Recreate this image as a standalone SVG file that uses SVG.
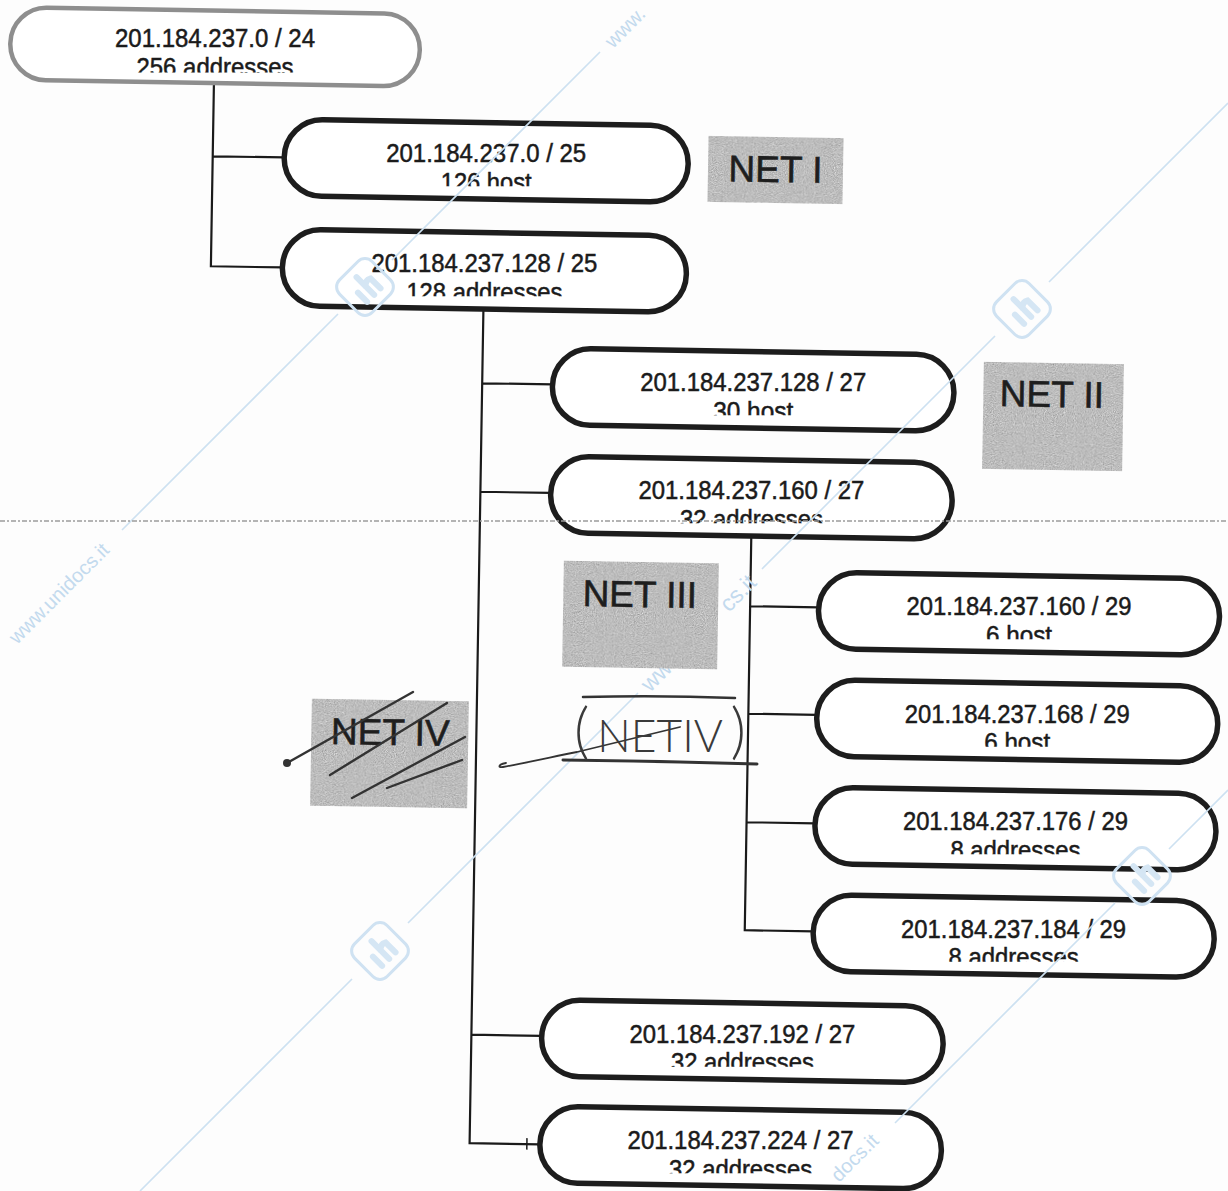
<svg xmlns="http://www.w3.org/2000/svg" xmlns:xlink="http://www.w3.org/1999/xlink" width="1228" height="1191" viewBox="0 0 1228 1191">
<style>
  .b {fill:#ffffff; stroke:#1d1d1d; stroke-width:5.5}
  .root .b {stroke:#8e8e8e; stroke-width:4.5}
  .t {font-family:"Liberation Sans", Arial, sans-serif; font-size:25px; fill:#1b1b1b; stroke:#1b1b1b; stroke-width:0.5; text-anchor:middle}
  .conn path {stroke:#1a1a1a; stroke-width:2.2; fill:none}
  .lbl rect {fill:#bdbdbd}
  .lbl text {font-family:"Liberation Sans", Arial, sans-serif; font-size:37px; fill:#1e1e1e; stroke:#1e1e1e; stroke-width:0.6; text-anchor:middle}
  .wm {stroke:#cde1f1; stroke-width:1.6; fill:none}
  .wmt {font-family:"Liberation Sans", Arial, sans-serif; font-size:20px; fill:#c3daee}
  .ink {stroke:#333333; fill:none; stroke-linecap:round; stroke-linejoin:round}
  .hand {font-family:Lato, "Noto Sans", "DejaVu Sans", sans-serif; font-weight:300; fill:#3a3a3a}
  .fold {stroke:#9c9c9c; stroke-width:1.3; stroke-dasharray:5 2 2 2; fill:none}
</style>
<defs>
  <filter id="grain" x="0" y="0" width="1" height="1" color-interpolation-filters="sRGB">
    <feTurbulence type="fractalNoise" baseFrequency="0.9" numOctaves="2" seed="7" result="noise"/>
    <feColorMatrix in="noise" type="matrix" values="0.33 0.33 0.33 0 0  0.33 0.33 0.33 0 0  0.33 0.33 0.33 0 0  0 0 0 0 1" result="gray"/>
    <feComposite in="gray" in2="SourceGraphic" operator="arithmetic" k1="0" k2="0.7" k3="1" k4="-0.35" result="mix"/>
    <feComposite in="mix" in2="SourceAlpha" operator="in"/>
  </filter>
  <g id="logo">
    <rect x="-23" y="-23" width="46" height="46" rx="10" fill="none" stroke="#cfe2f2" stroke-width="3"/>
    <path d="M-9 -1 V12 M1 -13 V12 M1 0 Q5 -5 10 -2 V12" stroke="#d5e6f4" stroke-width="6" stroke-linecap="round" fill="none"/>
  </g>
  <clipPath id="c1"><rect x="5" y="5" width="420" height="67.4"/></clipPath>
  <clipPath id="c2"><rect x="276" y="120" width="420" height="66.3"/></clipPath>
  <clipPath id="c3"><rect x="274" y="230" width="420" height="66.3"/></clipPath>
  <clipPath id="c4"><rect x="543" y="349" width="420" height="66.3"/></clipPath>
  <clipPath id="c5"><rect x="541" y="457" width="420" height="66.3"/></clipPath>
  <clipPath id="c6"><rect x="809" y="573" width="420" height="66.2"/></clipPath>
  <clipPath id="c7"><rect x="807" y="680" width="420" height="66.7"/></clipPath>
  <clipPath id="c8"><rect x="805" y="788" width="420" height="66.2"/></clipPath>
  <clipPath id="c9"><rect x="803" y="895" width="420" height="66.7"/></clipPath>
  <clipPath id="c10"><rect x="532" y="1001" width="420" height="65.7"/></clipPath>
  <clipPath id="c11"><rect x="530" y="1107" width="420" height="66.2"/></clipPath>
</defs>

<rect x="0" y="0" width="1228" height="1191" fill="#fdfdfd"/>

<g id="connectors" class="conn" transform="rotate(0.95 614 595)">
  <path d="M205.5 89 V273 H277 M205.5 163 H277"/>
  <path d="M478.7 311 V1145.5 H549 M478.7 385.5 H549 M478.7 494 H549 M478.7 1037 H549"/>
  <path d="M750.3 533 V928 H818.75 M750.3 604 H818.75 M750.3 711.5 H818.75 M750.3 820 H818.75"/>
  <path d="M536 1139.5 V1151" style="stroke-width:1.5"/>
</g>

<g id="n1" class="node root">
  <rect class="b" transform="rotate(0.95 614 595)" x="1.25" y="17.35" width="409.5" height="72.5" rx="36"/>
  <text class="t" x="215" y="47.4" textLength="200" lengthAdjust="spacingAndGlyphs">201.184.237.0 / 24</text>
  <g clip-path="url(#c1)"><text class="t" x="215" y="75.9" textLength="157" lengthAdjust="spacingAndGlyphs">256 addresses</text></g>
</g>
<g id="n2" class="node">
  <rect class="b" transform="rotate(0.95 614 595)" x="277" y="124.75" width="404" height="76.5" rx="38"/>
  <text class="t" x="486.2" y="162.3" textLength="200" lengthAdjust="spacingAndGlyphs">201.184.237.0 / 25</text>
  <g clip-path="url(#c2)"><text class="t" x="486.2" y="190.8" textLength="91" lengthAdjust="spacingAndGlyphs">126 host</text></g>
</g>
<g id="n3" class="node">
  <rect class="b" transform="rotate(0.95 614 595)" x="277" y="234.75" width="404" height="76.5" rx="38"/>
  <text class="t" x="484.4" y="272.3" textLength="226" lengthAdjust="spacingAndGlyphs">201.184.237.128 / 25</text>
  <g clip-path="url(#c3)"><text class="t" x="484.4" y="300.8" textLength="156" lengthAdjust="spacingAndGlyphs">128 addresses</text></g>
</g>
<g id="n4" class="node">
  <rect class="b" transform="rotate(0.95 614 595)" x="549" y="349.25" width="401.5" height="76.5" rx="38"/>
  <text class="t" x="753.2" y="391.3" textLength="226" lengthAdjust="spacingAndGlyphs">201.184.237.128 / 27</text>
  <g clip-path="url(#c4)"><text class="t" x="753.2" y="419.8" textLength="80" lengthAdjust="spacingAndGlyphs">30 host</text></g>
</g>
<g id="n5" class="node">
  <rect class="b" transform="rotate(0.95 614 595)" x="549" y="457.25" width="401.5" height="76.5" rx="38"/>
  <text class="t" x="751.4" y="499.3" textLength="226" lengthAdjust="spacingAndGlyphs">201.184.237.160 / 27</text>
  <g clip-path="url(#c5)"><text class="t" x="751.4" y="527.8" textLength="143" lengthAdjust="spacingAndGlyphs">32 addresses</text></g>
</g>
<g id="n6" class="node">
  <rect class="b" transform="rotate(0.95 614 595)" x="818.75" y="568.75" width="401" height="76.5" rx="38"/>
  <text class="t" x="1019" y="615.2" textLength="225" lengthAdjust="spacingAndGlyphs">201.184.237.160 / 29</text>
  <g clip-path="url(#c6)"><text class="t" x="1019" y="643.7" textLength="66" lengthAdjust="spacingAndGlyphs">6 host</text></g>
</g>
<g id="n7" class="node">
  <rect class="b" transform="rotate(0.95 614 595)" x="818.75" y="676.25" width="401" height="76.5" rx="38"/>
  <text class="t" x="1017.2" y="722.7" textLength="225" lengthAdjust="spacingAndGlyphs">201.184.237.168 / 29</text>
  <g clip-path="url(#c7)"><text class="t" x="1017.2" y="751.2" textLength="66" lengthAdjust="spacingAndGlyphs">6 host</text></g>
</g>
<g id="n8" class="node">
  <rect class="b" transform="rotate(0.95 614 595)" x="818.75" y="783.75" width="401" height="76.5" rx="38"/>
  <text class="t" x="1015.4" y="830.2" textLength="225" lengthAdjust="spacingAndGlyphs">201.184.237.176 / 29</text>
  <g clip-path="url(#c8)"><text class="t" x="1015.4" y="858.7" textLength="130" lengthAdjust="spacingAndGlyphs">8 addresses</text></g>
</g>
<g id="n9" class="node">
  <rect class="b" transform="rotate(0.95 614 595)" x="818.75" y="891.25" width="401" height="76.5" rx="38"/>
  <text class="t" x="1013.6" y="937.7" textLength="225" lengthAdjust="spacingAndGlyphs">201.184.237.184 / 29</text>
  <g clip-path="url(#c9)"><text class="t" x="1013.6" y="966.2" textLength="130" lengthAdjust="spacingAndGlyphs">8 addresses</text></g>
</g>
<g id="n10" class="node">
  <rect class="b" transform="rotate(0.95 614 595)" x="549" y="1000.75" width="401.5" height="76.5" rx="38"/>
  <text class="t" x="742.4" y="1042.7" textLength="226" lengthAdjust="spacingAndGlyphs">201.184.237.192 / 27</text>
  <g clip-path="url(#c10)"><text class="t" x="742.4" y="1071.2" textLength="143" lengthAdjust="spacingAndGlyphs">32 addresses</text></g>
</g>
<g id="n11" class="node">
  <rect class="b" transform="rotate(0.95 614 595)" x="549" y="1107.25" width="401.5" height="76.5" rx="38"/>
  <text class="t" x="740.6" y="1149.2" textLength="226" lengthAdjust="spacingAndGlyphs">201.184.237.224 / 27</text>
  <g clip-path="url(#c11)"><text class="t" x="740.6" y="1177.7" textLength="143" lengthAdjust="spacingAndGlyphs">32 addresses</text></g>
</g>

<g id="watermark">
  <path class="wm" d="M122 530 L338 314 M392 260 L600 52"/>
  <path class="wm" d="M140 1191 L352 979 M408 923 L638 693 M762 569 L995 336 M1049 282 L1228 103"/>
  <path class="wm" d="M895 1123 L1115 903 M1169 849 L1228 790"/>
  <use xlink:href="#logo" transform="translate(365 287) rotate(-45)"/>
  <use xlink:href="#logo" transform="translate(1022 309) rotate(-45)"/>
  <use xlink:href="#logo" transform="translate(380 951) rotate(-45)"/>
  <use xlink:href="#logo" transform="translate(1142 876) rotate(-45)"/>
  <text class="wmt" transform="translate(12 640) rotate(-45)" x="0" y="7">www.unidocs.it</text>
  <text class="wmt" transform="translate(608 44) rotate(-45)" x="0" y="7">www.</text>
  <text class="wmt" transform="translate(645 688) rotate(-45)" x="0" y="7" style="font-size:23px">www.</text>
  <text class="wmt" transform="translate(724 608) rotate(-45)" x="0" y="7" style="font-size:23px">cs.it</text>
  <text class="wmt" transform="translate(834 1178) rotate(-45)" x="0" y="7">docs.it</text>
</g>

<g id="label-net1" class="lbl" transform="rotate(0.95 775.5 170)">
  <rect x="708" y="137" width="135" height="66" filter="url(#grain)"/>
  <text x="775.5" y="182">NET I</text>
</g>
<g id="label-net2" class="lbl" transform="rotate(0.95 1053 416)">
  <rect x="983" y="363" width="140" height="107" filter="url(#grain)"/>
  <text x="1051.5" y="407">NET II</text>
</g>
<g id="label-net3" class="lbl" transform="rotate(0.95 640 615)">
  <rect x="563" y="562" width="155" height="106" filter="url(#grain)"/>
  <text x="639.5" y="607">NET III</text>
</g>
<g id="label-net4" class="lbl" transform="rotate(0.95 390 753)">
  <rect x="311" y="700" width="157" height="107" filter="url(#grain)"/>
  <text x="390" y="745">NET IV</text>
</g>

<g id="handwriting">
  <g class="ink" style="stroke-width:2.4">
    <path d="M287 763 L413 692"/>
    <path d="M330 775 L447 703"/>
    <path d="M352 798 L465 737"/>
    <path d="M387 788 L462 760"/>
  </g>
  <circle cx="287" cy="763" r="4" fill="#333333"/>
  <path class="ink" d="M583 697 Q660 695 735 698" style="stroke-width:2.5"/>
  <path class="ink" d="M563 760 Q660 761 757 764" style="stroke-width:3"/>
  <path class="ink" d="M506 763 C499 764 497 768 503 767 C530 762 552 757 577 752 L680 727" style="stroke-width:1.8"/>
  <text class="hand" x="574" y="752" textLength="172" lengthAdjust="spacingAndGlyphs"><tspan font-size="62">(</tspan><tspan font-size="46" dx="8">NETIV</tspan><tspan font-size="62" dx="8">)</tspan></text>
</g>

<path class="fold" d="M0 521 H1228"/>
</svg>
